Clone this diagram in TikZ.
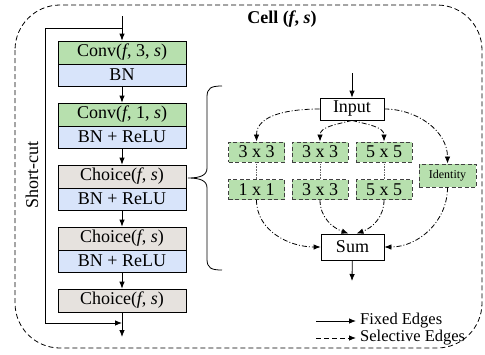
\documentclass[tikz,border=0pt]{standalone}
\usepackage{fontspec}
\setmainfont{Liberation Serif}
\usetikzlibrary{arrows.meta}
\definecolor{gfill}{RGB}{183,224,174}
\definecolor{bfill}{RGB}{216,228,250}
\definecolor{cfill}{RGB}{230,226,222}
\begin{document}
\begin{tikzpicture}[x=1pt,y=-1pt,
  box/.style={draw=black, line width=0.8pt, minimum width=128pt, inner sep=0pt, font=\fontsize{18}{20}\selectfont},
  gbox/.style={box, fill=gfill, minimum height=23pt},
  bbox/.style={box, fill=bfill, minimum height=22pt},
  cbox/.style={box, fill=cfill, minimum height=23pt},
  wbox/.style={draw=black, line width=0.8pt, fill=white, inner sep=0pt, font=\fontsize{18}{20}\selectfont},
  dbox/.style={draw=black!75, line width=0.9pt, dash pattern=on 4pt off 2.5pt, fill=gfill, inner sep=0pt, minimum width=56pt, minimum height=20pt, font=\fontsize{18}{20}\selectfont},
  arr/.style={line width=0.8pt, -{Latex[length=7pt,width=5.5pt]}},
  sel/.style={line width=0.8pt, dash pattern=on 5pt off 2pt on 1pt off 2pt, -{Latex[length=7pt,width=5.5pt]}},
  dotl/.style={black!60, line width=0.6pt, densely dotted}
]
\useasboundingbox (0,0) rectangle (485,354);
% outer cell
\draw[line width=0.8pt, dash pattern=on 5pt off 3pt, rounded corners=45pt] (15,5) rectangle (482,348);
\node[font=\fontsize{18}{20}\selectfont\bfseries] (title) at (282,19) {Cell (\textit{f}, \textit{s})};
\node[rotate=90, font=\fontsize{18}{20}\selectfont] (sclabel) at (32,175) {Short-cut};

% left column
\node[gbox] (b1g) at (122,52.5) {Conv(\textit{f}, 3, \textit{s})};
\node[bbox] (b1b) at (122,75) {BN};
\node[gbox] (b2g) at (122,114.5) {Conv(\textit{f}, 1, \textit{s})};
\node[bbox] (b2b) at (122,137) {BN + ReLU};
\node[cbox] (b3c) at (122,176.5) {Choice(\textit{f}, \textit{s})};
\node[bbox] (b3b) at (122,199) {BN + ReLU};
\node[cbox] (b4c) at (122,238.5) {Choice(\textit{f}, \textit{s})};
\node[bbox] (b4b) at (122,261) {BN + ReLU};
\node[cbox] (b5c) at (122,300.5) {Choice(\textit{f}, \textit{s})};

\coordinate (cin) at (122,16);
\coordinate (sc1) at (122,28);
\coordinate (sc2) at (45,28);
\coordinate (sc3) at (45,323);
\coordinate (join) at (122,323);
\coordinate (cout) at (122,337);
\draw[arr] (cin) -- (b1g);
\draw[arr] (b1b) -- (b2g);
\draw[arr] (b2b) -- (b3c);
\draw[arr] (b3b) -- (b4c);
\draw[arr] (b4b) -- (b5c);
\draw[arr] (b5c) -- (cout);
\draw[arr] (sc1) -- (sc2) -- (sc3) -- (join);

% brace
\draw[line width=0.8pt] (222,86) .. controls (211,86) and (207,88) .. (207,97) -- (207,168)
  .. controls (207,175) and (201,178) .. (188,178)
  .. controls (201,178) and (207,181) .. (207,188) -- (207,259)
  .. controls (207,268) and (211,270) .. (222,270);

% right: choice block
\node[wbox, minimum width=64pt, minimum height=22pt] (inp) at (352,109) {Input};
\node[wbox, minimum width=63pt, minimum height=26pt] (sum) at (352.5,247) {Sum};
\coordinate (rin) at (352,73);
\coordinate (rout) at (352,281);
\draw[arr] (rin) -- (inp);
\draw[arr] (sum) -- (rout);

\node[dbox] (t1) at (256.5,152) {3 x 3};
\node[dbox] (t2) at (320,152) {3 x 3};
\node[dbox] (t3) at (384,152) {5 x 5};
\node[dbox] (u1) at (256.5,189.5) {1 x 1};
\node[dbox] (u2) at (320,189.5) {3 x 3};
\node[dbox] (u3) at (384,189.5) {5 x 5};
\node[dbox, minimum width=57pt, minimum height=23pt, font=\fontsize{12}{14}\selectfont] (idn) at (447.5,175.5) {Identity};

\draw[dotl] (t1.south) -- (u1.north);
\draw[dotl] (t2.south) -- (u2.north);
\draw[dotl] (t3.south) -- (u3.north);

\draw[sel] (inp.west) to[out=180,in=90] (t1.north);
\draw[sel] (inp.east) to[out=0,in=90] (idn.north);
\draw[sel] (inp.south) to[out=195,in=90] (t2.north);
\draw[sel] (inp.south) to[out=-15,in=90] (t3.north);
\draw[sel] (u1.south) to[out=-90,in=180] (sum.west);
\draw[sel] (u2.south) to[out=-90,in=160] ([xshift=-4pt]sum.north);
\draw[sel] (u3.south) to[out=-90,in=20] ([xshift=4pt]sum.north);
\draw[sel] (idn.south) to[out=-90,in=0] (sum.east);

% legend
\coordinate (l1a) at (316,321);
\coordinate (l1b) at (356,321);
\coordinate (l2a) at (316,338);
\coordinate (l2b) at (356,338);
\draw[arr] (l1a) -- (l1b);
\draw[line width=0.8pt, dash pattern=on 5pt off 3pt, -{Latex[length=7pt,width=5.5pt]}] (l2a) -- (l2b);
\node[anchor=west, inner sep=0pt, font=\fontsize{16.5}{18}\selectfont] (lg1) at (360,321) {Fixed Edges};
\node[anchor=west, inner sep=0pt, font=\fontsize{16.5}{18}\selectfont] (lg2) at (360,338) {Selective Edges};
\end{tikzpicture}
\end{document}
